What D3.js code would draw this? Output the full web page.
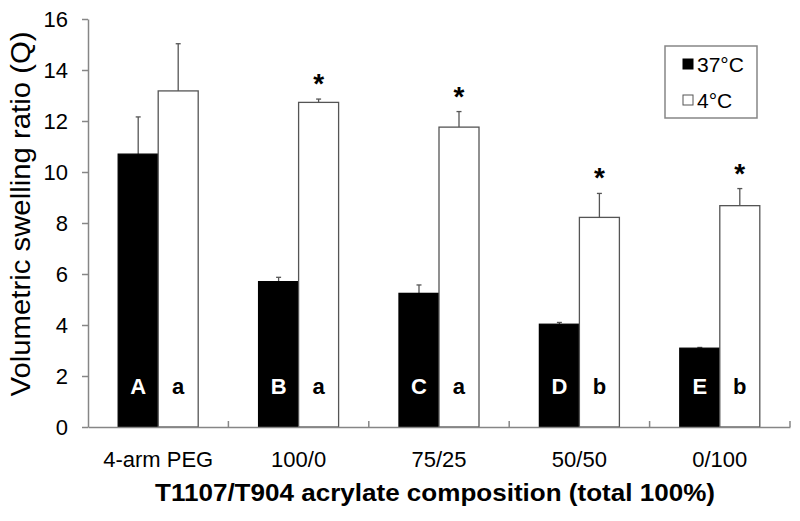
<html>
<head><meta charset="utf-8"></head>
<script src='https://d3js.org/d3.v7.min.js'></script>
<style>
body { margin: 0; background: #fff; }
text { font-family: Arial, 'Liberation Sans', sans-serif; }
</style>
<body>
<svg id='chart' width='800' height='521'></svg>
<script>
// values
const categories = ["4-arm PEG", "100/0", "75/25", "50/50", "0/100"];
const series = ["37°C", "4°C"];
const warm = [10.7, 5.70, 5.24, 4.03, 3.09];
const warmErr = [1.46, 0.17, 0.33, 0.07, 0.03];
const cold = [13.18, 12.73, 11.76, 8.22, 8.68];
const coldErr = [1.85, 0.13, 0.61, 0.94, 0.67];
const warmLetters = ["A", "B", "C", "D", "E"];
const coldLetters = ["a", "a", "a", "b", "b"];
const stars = [false, true, true, true, true];
const yTicks = [0, 2, 4, 6, 8, 10, 12, 14, 16];

const svg = d3.select('#chart');
const axisColor = '#868686';
const font = "Arial, 'Liberation Sans', sans-serif";

const x = d3.scaleBand().domain(categories).range([88, 790]).padding(0);
const xs = d3.scaleBand().domain(series).range([0, x.bandwidth()])
  .paddingInner(0).paddingOuter(0.755);
const y = d3.scaleLinear().domain([0, 16]).range([427, 19]);

const rows = categories.map((c, i) => ({
  cat: c,
  vals: [
    {s: series[0], v: warm[i], e: warmErr[i], lab: warmLetters[i]},
    {s: series[1], v: cold[i], e: coldErr[i], lab: coldLetters[i], star: stars[i]}
  ]
}));

const groups = svg.append('g').selectAll('g')
  .data(rows).enter().append('g')
  .attr('transform', d => 'translate(' + x(d.cat) + ',0)');

// error bars (upper only)
groups.selectAll('.err').data(d => d.vals).enter().append('g')
  .each(function(d) {
    const g = d3.select(this);
    const cx = xs(d.s) + xs.bandwidth() / 2;
    g.append('line').attr('x1', cx).attr('x2', cx)
      .attr('y1', y(d.v)).attr('y2', y(d.v + d.e))
      .attr('stroke', '#555').attr('stroke-width', 1.3);
    g.append('line').attr('x1', cx - 2.5).attr('x2', cx + 2.5)
      .attr('y1', y(d.v + d.e)).attr('y2', y(d.v + d.e))
      .attr('stroke', '#555').attr('stroke-width', 1.3);
  });

// bars
groups.selectAll('rect').data(d => d.vals).enter().append('rect')
  .attr('x', d => xs(d.s))
  .attr('y', d => y(d.v))
  .attr('width', xs.bandwidth())
  .attr('height', d => y(0) - y(d.v))
  .attr('fill', d => d.s === series[0] ? '#000' : '#fff')
  .attr('stroke', d => d.s === series[0] ? '#000' : '#555')
  .attr('stroke-width', 1.3);

// letters inside bars
groups.selectAll('.lab').data(d => d.vals).enter().append('text')
  .attr('x', d => xs(d.s) + xs.bandwidth() / 2)
  .attr('y', y(1.29))
  .attr('text-anchor', 'middle')
  .attr('font-size', 22)
  .attr('font-weight', 'bold')
  .attr('fill', d => d.s === series[0] ? '#fff' : '#000')
  .text(d => d.lab);

// asterisks
groups.selectAll('.star').data(d => d.vals.filter(v => v.star)).enter().append('text')
  .attr('x', d => xs(d.s) + xs.bandwidth() / 2)
  .attr('y', d => y(d.v + d.e) - 6)
  .attr('text-anchor', 'middle')
  .attr('font-size', 28)
  .attr('font-weight', 'bold')
  .text('*');

// y axis
const yAxis = svg.append('g').attr('transform', 'translate(88,0)')
  .call(d3.axisLeft(y).tickValues(yTicks).tickSize(6).tickPadding(14).tickSizeOuter(0));
yAxis.select('.domain').attr('stroke', axisColor).attr('stroke-width', 1.5);
yAxis.selectAll('.tick line').attr('stroke', axisColor).attr('stroke-width', 1.5);
yAxis.selectAll('.tick text').attr('font-size', 22).attr('fill', '#000')
  .style('font-family', font);

// x axis
const xAxis = svg.append('g').attr('transform', 'translate(0,427)')
  .call(d3.axisBottom(x).tickSize(0).tickPadding(24));
xAxis.select('.domain').attr('stroke', axisColor).attr('stroke-width', 1.5);
xAxis.selectAll('.tick text').attr('font-size', 22).attr('fill', '#000')
  .style('font-family', font);
// small ticks between categories
svg.append('g').selectAll('line')
  .data(categories).enter().append('line')
  .attr('x1', d => x(d) + x.bandwidth()).attr('x2', d => x(d) + x.bandwidth())
  .attr('y1', 427).attr('y2', 421)
  .attr('stroke', axisColor).attr('stroke-width', 1.5);

// axis titles
svg.append('text')
  .attr('transform', 'translate(30,214) rotate(-90)')
  .attr('text-anchor', 'middle')
  .attr('font-size', 27)
  .attr('textLength', 365).attr('lengthAdjust', 'spacingAndGlyphs')
  .text('Volumetric swelling ratio (Q)');

svg.append('text')
  .attr('x', 435).attr('y', 501)
  .attr('text-anchor', 'middle')
  .attr('font-size', 24)
  .attr('font-weight', 'bold')
  .attr('textLength', 560).attr('lengthAdjust', 'spacingAndGlyphs')
  .text('T1107/T904 acrylate composition (total 100%)');

// legend
const legend = svg.append('g');
legend.append('rect')
  .attr('x', 665).attr('y', 46).attr('width', 92).attr('height', 72)
  .attr('fill', '#fff').attr('stroke', axisColor).attr('stroke-width', 1.5);
const items = legend.selectAll('.item').data(series).enter().append('g')
  .attr('transform', (d, i) => 'translate(683,' + (59 + i * 36) + ')');
items.append('rect')
  .attr('width', 10).attr('height', 10)
  .attr('fill', (d, i) => i === 0 ? '#000' : '#fff')
  .attr('stroke', (d, i) => i === 0 ? '#000' : '#555')
  .attr('stroke-width', 1);
items.append('text')
  .attr('x', 14).attr('y', 13)
  .attr('font-size', 21)
  .text(d => d);
</script>
</body>
</html>
